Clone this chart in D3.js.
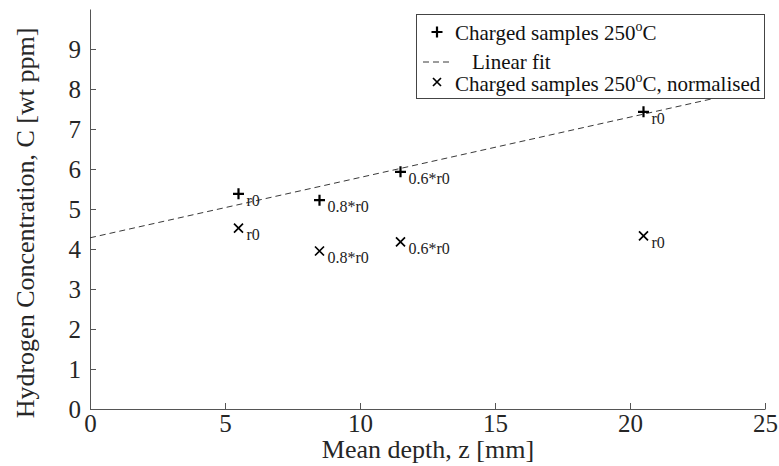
<!DOCTYPE html>
<html><head><meta charset="utf-8">
<script src="https://cdn.jsdelivr.net/npm/d3@7"></script>
<style>body{margin:0;background:#fff}svg{display:block}</style>
</head><body>
<svg id="c" width="779" height="466"></svg>
<script>
const xTicks = [0,5,10,15,20,25];
const yTicks = [0,1,2,3,4,5,6,7,8,9];
const plusX = [5.5, 8.5, 11.5, 20.5];
const plusY = [5.38, 5.22, 5.93, 7.43];
const plusLabels = ["r0", "0.8*r0", "0.6*r0", "r0"];
const crossX = [5.5, 8.5, 11.5, 20.5];
const crossY = [4.52, 3.95, 4.18, 4.33];
const crossLabels = ["r0", "0.8*r0", "0.6*r0", "r0"];
const fitX = [0, 25];
const fitY = [4.28, 8.05];
const legendLabels = ["Charged samples 250", "Linear fit", "Charged samples 250"];

const svg = d3.select("#c");
const x = d3.scaleLinear().domain([0,25]).range([90,765]);
const y = d3.scaleLinear().domain([0,10]).range([409,9]);
const font = "'Liberation Serif','Times New Roman',serif";
const axCol = "#555";

// axes
const gx = svg.append("g").attr("transform","translate(0,409)")
  .call(d3.axisBottom(x).tickValues(xTicks).tickSize(-6).tickPadding(12).tickSizeOuter(0));
const gy = svg.append("g").attr("transform","translate(90,0)")
  .call(d3.axisLeft(y).tickValues(yTicks).tickSize(-6).tickPadding(9).tickSizeOuter(0));
[gx,gy].forEach(g=>{
  g.select(".domain").attr("stroke",axCol);
  g.selectAll(".tick line").attr("stroke",axCol);
  g.selectAll(".tick text").attr("fill","#262626").attr("font-family",font).attr("font-size",25);
});
gx.selectAll(".tick text").attr("dy","0.45em");
gy.selectAll(".tick text").attr("dy","0.33em");

// axis titles
svg.append("text").attr("x",428).attr("y",458).attr("text-anchor","middle")
  .attr("font-family",font).attr("font-size",26).attr("fill","#262626").text("Mean depth, z [mm]");
svg.append("text").attr("transform","translate(34,223) rotate(-90)").attr("text-anchor","middle")
  .attr("font-family",font).attr("font-size",26).attr("fill","#262626").text("Hydrogen Concentration, C [wt ppm]");

// fit line
svg.append("path").datum(fitX.map((v,i)=>[v,fitY[i]]))
  .attr("d", d3.line().x(d=>x(d[0])).y(d=>y(d[1])))
  .attr("fill","none").attr("stroke","#222").attr("stroke-width",0.9).attr("stroke-dasharray","6,4");

function plus(g,cx,cy,s){
  g.append("path").attr("d",`M${cx-s},${cy}H${cx+s}M${cx},${cy-s}V${cy+s}`)
   .attr("stroke","#000").attr("stroke-width",2.2).attr("fill","none");
}
function cross(g,cx,cy,s){
  g.append("path").attr("d",`M${cx-s},${cy-s}L${cx+s},${cy+s}M${cx-s},${cy+s}L${cx+s},${cy-s}`)
   .attr("stroke","#000").attr("stroke-width",1.7).attr("fill","none");
}
const pts = svg.append("g");
plusX.forEach((v,i)=>{
  const cx=x(v), cy=y(plusY[i]);
  plus(pts,cx,cy,5.5);
  pts.append("text").attr("x",cx+8).attr("y",cy+12).attr("font-family",font).attr("font-size",16)
    .attr("fill","#222").text(plusLabels[i]);
});
crossX.forEach((v,i)=>{
  const cx=x(v), cy=y(crossY[i]);
  cross(pts,cx,cy,4.5);
  pts.append("text").attr("x",cx+8).attr("y",cy+12).attr("font-family",font).attr("font-size",16)
    .attr("fill","#222").text(crossLabels[i]);
});

// legend
const lg = svg.append("g");
lg.append("rect").attr("x",416.5).attr("y",14.5).attr("width",348).attr("height",84)
  .attr("fill","#fff").attr("stroke","#444").attr("stroke-width",1);
plus(lg,437,32,5.5);
cross(lg,437,82,4);
lg.append("line").attr("x1",423).attr("x2",453).attr("y1",62).attr("y2",62)
  .attr("stroke","#222").attr("stroke-width",0.9).attr("stroke-dasharray","6,4");
const t1 = lg.append("text").attr("x",455).attr("y",40).attr("font-family",font).attr("font-size",21).attr("fill","#111");
t1.append("tspan").text(legendLabels[0]);
t1.append("tspan").attr("font-size",14).attr("dy",-9).text("o");
t1.append("tspan").attr("dy",9).text("C");
lg.append("text").attr("x",472).attr("y",69).attr("font-family",font).attr("font-size",21).attr("fill","#111").text(legendLabels[1]);
const t3 = lg.append("text").attr("x",455).attr("y",91).attr("font-family",font).attr("font-size",21).attr("fill","#111");
t3.append("tspan").text(legendLabels[2]);
t3.append("tspan").attr("font-size",14).attr("dy",-9).text("o");
t3.append("tspan").attr("dy",9).text("C, normalised");
</script>
</body></html>
